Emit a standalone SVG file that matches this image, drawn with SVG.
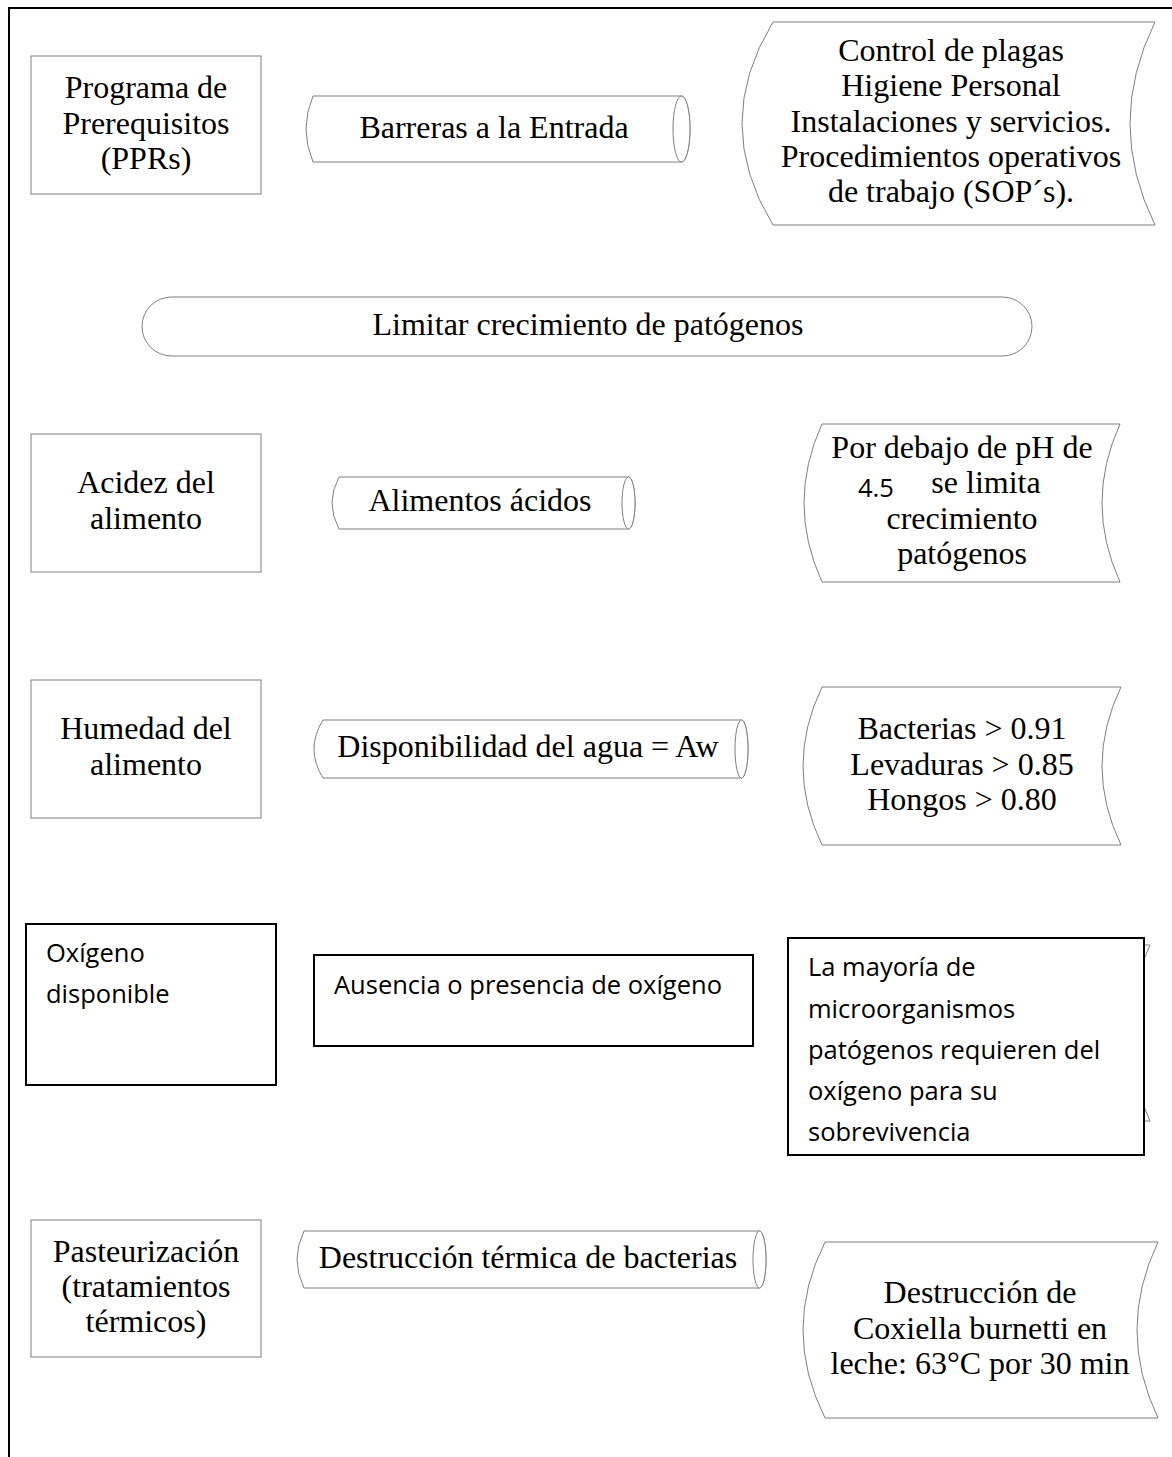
<svg xmlns="http://www.w3.org/2000/svg" width="1172" height="1457" viewBox="0 0 1172 1457">
<style>
.g{fill:#fff;stroke:#7f7f7f;stroke-width:1}
.b{fill:#fff;stroke:#000;stroke-width:2}
.s{font-family:"Liberation Serif",serif;font-size:32px;fill:#000;text-anchor:middle}
.c{font-family:"Open Sans","Liberation Sans",sans-serif;font-size:25.5px;fill:#000}
</style>
<rect width="1172" height="1457" fill="#fff"/>
<g id="frame">
<path d="M9,1457 V8 H1172" fill="none" stroke="#000" stroke-width="2"/>
</g>
<g id="connectors"></g>

<g id="ppr">
<rect class="g" x="31" y="56" width="230" height="138"/>
<text class="s" x="146" y="98">Programa de</text>
<text class="s" x="146" y="134">Prerequisitos</text>
<text class="s" x="146" y="169">(PPRs)</text>
</g>
<g id="barreras">
<path class="g" d="M313,96 H681.5 A8.5,33 0 0 1 681.5,162 H313 Q299,129 313,96 Z"/>
<ellipse class="g" cx="681.5" cy="129" rx="8.5" ry="33"/>
<text class="s" x="494" y="138">Barreras a la Entrada</text>
</g>
<g id="control">
<path class="g" d="M773,22 H1155 Q1105,123.5 1155,225 H773 Q711,123.5 773,22 Z"/>
<text class="s" x="951" y="61">Control de plagas</text>
<text class="s" x="951" y="96">Higiene Personal</text>
<text class="s" x="951" y="132">Instalaciones y servicios.</text>
<text class="s" x="951" y="167">Procedimientos operativos</text>
<text class="s" x="951" y="202">de trabajo (SOP´s).</text>
</g>
<g id="limitar">
<rect class="g" x="142" y="297" width="890" height="59" rx="29.5"/>
<text class="s" x="588" y="335">Limitar crecimiento de patógenos</text>
</g>

<g id="acidez">
<rect class="g" x="31" y="434" width="230" height="138"/>
<text class="s" x="146" y="493">Acidez del</text>
<text class="s" x="146" y="529">alimento</text>
</g>
<g id="acidos">
<path class="g" d="M339,477 H628.5 A6.5,26 0 0 1 628.5,529 H339 Q325,503 339,477 Z"/>
<ellipse class="g" cx="628.5" cy="503" rx="6.5" ry="26"/>
<text class="s" x="480" y="511">Alimentos ácidos</text>
</g>
<g id="ph">
<path class="g" d="M822,424 H1120 Q1084,503 1120,582 H822 Q786,503 822,424 Z"/>
<text class="s" x="962" y="458">Por debajo de pH de</text>
<text class="c" x="858" y="497">4.5</text>
<text class="s" x="986" y="493">se limita</text>
<text class="s" x="962" y="529">crecimiento</text>
<text class="s" x="962" y="564">patógenos</text>
</g>

<g id="humedad">
<rect class="g" x="31" y="680" width="230" height="138"/>
<text class="s" x="146" y="739">Humedad del</text>
<text class="s" x="146" y="775">alimento</text>
</g>
<g id="aw">
<path class="g" d="M323,720 H741.5 A6.5,29 0 0 1 741.5,778 H323 Q305,749 323,720 Z"/>
<ellipse class="g" cx="741.5" cy="749" rx="6.5" ry="29"/>
<text class="s" x="528" y="757">Disponibilidad del agua = Aw</text>
</g>
<g id="valores">
<path class="g" d="M822,687 H1121 Q1083,766 1121,845 H822 Q784,766 822,687 Z"/>
<text class="s" x="962" y="739">Bacterias &gt; 0.91</text>
<text class="s" x="962" y="775">Levaduras &gt; 0.85</text>
<text class="s" x="962" y="810">Hongos &gt; 0.80</text>
</g>

<g id="oxigeno">
<rect class="b" x="26" y="924" width="250" height="161"/>
<text class="c" x="46" y="962">Oxígeno</text>
<text class="c" x="46" y="1003">disponible</text>
</g>
<g id="ausencia">
<rect class="b" x="314" y="955" width="439" height="91"/>
<text class="c" x="334" y="994">Ausencia o presencia de oxígeno</text>
</g>
<g id="mayoria">
<path class="g" d="M830,945 H1150 Q1108,1033 1150,1121 H830 Q790,1033 830,945 Z"/>
<rect class="b" x="788" y="938" width="356" height="217"/>
<text class="c" x="808" y="976">La mayoría de</text>
<text class="c" x="808" y="1018">microorganismos</text>
<text class="c" x="808" y="1059">patógenos requieren del</text>
<text class="c" x="808" y="1100">oxígeno para su</text>
<text class="c" x="808" y="1141">sobrevivencia</text>
</g>

<g id="pasteurizacion">
<rect class="g" x="31" y="1220" width="230" height="137"/>
<text class="s" x="146" y="1262">Pasteurización</text>
<text class="s" x="146" y="1297">(tratamientos</text>
<text class="s" x="146" y="1332">térmicos)</text>
</g>
<g id="termica">
<path class="g" d="M304,1231 H759.5 A6.5,28.5 0 0 1 759.5,1288 H304 Q290,1259.5 304,1231 Z"/>
<ellipse class="g" cx="759.5" cy="1259.5" rx="6.5" ry="28.5"/>
<text class="s" x="528" y="1268">Destrucción térmica de bacterias</text>
</g>
<g id="coxiella">
<path class="g" d="M825,1242 H1158 Q1116,1330 1158,1418 H825 Q781,1330 825,1242 Z"/>
<text class="s" x="980" y="1303">Destrucción de</text>
<text class="s" x="980" y="1339">Coxiella burnetti en</text>
<text class="s" x="980" y="1374">leche: 63°C por 30 min</text>
</g>
</svg>
